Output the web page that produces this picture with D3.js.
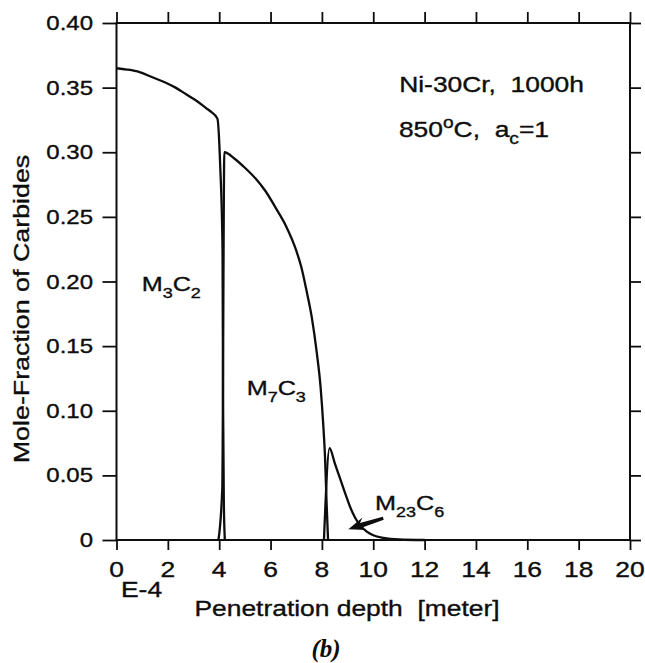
<!DOCTYPE html>
<html>
<head>
<meta charset="utf-8">
<script src="https://cdn.jsdelivr.net/npm/d3@7"></script>
<style>
  html, body { margin: 0; padding: 0; background: #fff; }
  svg { display: block; }
  text { font-family: "Liberation Sans", Arial, Helvetica, sans-serif; fill: #0d0d0d; stroke: #0d0d0d; stroke-width: 0.35px; }
</style>
</head>
<body>
<svg id="chart" width="645" height="663"></svg>
<script>
// Axis ticks
const xTicks = [0, 2, 4, 6, 8, 10, 12, 14, 16, 18, 20];
const yTicks = [0, 0.05, 0.10, 0.15, 0.20, 0.25, 0.30, 0.35, 0.40];
const yTickLabels = ["0", "0.05", "0.10", "0.15", "0.20", "0.25", "0.30", "0.35", "0.40"];

// M3C2 carbide profile (depth in 1E-4 m, mole fraction)
const m3c2Depth = [0, 0.4, 0.9, 1.4, 1.9, 2.3, 2.7, 3.1, 3.5, 3.7, 3.93, 4.04, 4.13, 4.15, 4.18, 4.22];
const m3c2Frac  = [0.365, 0.364, 0.362, 0.358, 0.354, 0.350, 0.345, 0.340, 0.334, 0.331, 0.326, 0.289, 0.224, 0.108, 0.030, 0];

// M7C3 carbide profile
const m7c3Depth = [3.97, 4.12, 4.2, 4.6, 5.0, 5.4, 5.8, 6.2, 6.6, 7.0, 7.2, 7.4, 7.6, 7.8, 7.95, 8.05, 8.12, 8.18, 8.24];
const m7c3Frac  = [0, 0.04, 0.300, 0.295, 0.288, 0.280, 0.270, 0.257, 0.243, 0.224, 0.211, 0.193, 0.173, 0.145, 0.118, 0.090, 0.065, 0.030, 0];

// M23C6 carbide profile
const m23c6Depth = [8.08, 8.3, 8.5, 8.7, 8.9, 9.1, 9.3, 9.5, 9.75, 10.0, 10.4, 11.0, 12.0];
const m23c6Frac  = [0, 0.071, 0.0595, 0.048, 0.0365, 0.0255, 0.017, 0.011, 0.0065, 0.0037, 0.0016, 0.0004, 0];

const STRETCH = 1.2;   // wide lettering of the figure
const ink = "#0d0d0d";

const svg = d3.select("#chart");
const x = d3.scaleLinear().domain([0, 20]).range([116.5, 630]);
const y = d3.scaleLinear().domain([0, 0.40]).range([540, 23]);

// tick marks on all four sides
const tickStyle = g => {
  g.select(".domain").remove();
  g.selectAll("line").attr("stroke", ink).attr("stroke-width", 1.8);
};
svg.append("g").attr("transform", `translate(0,${y(0)})`)
  .call(d3.axisBottom(x).tickValues(xTicks).tickSize(10).tickFormat(""))
  .call(tickStyle);
svg.append("g").attr("transform", `translate(0,${y(0.40)})`)
  .call(d3.axisTop(x).tickValues(xTicks).tickSize(11).tickFormat(""))
  .call(tickStyle);
svg.append("g").attr("transform", `translate(${x(0)},0)`)
  .call(d3.axisLeft(y).tickValues(yTicks).tickSize(14).tickFormat(""))
  .call(tickStyle);
svg.append("g").attr("transform", `translate(${x(20)},0)`)
  .call(d3.axisRight(y).tickValues(yTicks).tickSize(11).tickFormat(""))
  .call(tickStyle);

// plot frame
svg.append("rect")
  .attr("x", x(0)).attr("y", y(0.40))
  .attr("width", x(20) - x(0)).attr("height", y(0) - y(0.40))
  .attr("fill", "none").attr("stroke", ink).attr("stroke-width", 2);

// tick labels
svg.append("g").selectAll("text").data(xTicks).join("text")
  .attr("transform", d => `translate(${x(d)},577) scale(${STRETCH},1)`)
  .attr("text-anchor", "middle").attr("font-size", 22)
  .text(d => d);
svg.append("g").selectAll("text").data(yTicks).join("text")
  .attr("transform", d => `translate(93,${y(d) + 7}) scale(${STRETCH},1)`)
  .attr("text-anchor", "end").attr("font-size", 20)
  .text((d, i) => yTickLabels[i]);

// exponent marker and axis titles
svg.append("text")
  .attr("transform", `translate(121,597) scale(${STRETCH},1)`)
  .attr("font-size", 22).text("E-4");
svg.append("text")
  .attr("transform", `translate(347,616) scale(${STRETCH},1)`)
  .attr("text-anchor", "middle").attr("font-size", 22)
  .style("white-space", "pre")
  .text("Penetration depth  [meter]");
svg.append("text")
  .attr("transform", `translate(29,309) rotate(-90) scale(1.22,1)`)
  .attr("text-anchor", "middle").attr("font-size", 22)
  .text("Mole-Fraction of Carbides");
svg.append("text")
  .attr("x", 326).attr("y", 657)
  .attr("text-anchor", "middle")
  .style("font-family", '"Liberation Serif", "Times New Roman", serif')
  .style("font-style", "italic")
  .style("font-weight", "bold")
  .style("stroke-width", "0px")
  .attr("font-size", 25)
  .text("(b)");

// carbide curves
const line = d3.line().x(d => x(d[0])).y(d => y(d[1])).curve(d3.curveMonotoneX);
const series = [
  d3.zip(m3c2Depth, m3c2Frac),
  d3.zip(m7c3Depth, m7c3Frac),
  d3.zip(m23c6Depth, m23c6Frac)
];
svg.append("g").selectAll("path").data(series).join("path")
  .attr("d", line)
  .attr("fill", "none").attr("stroke", ink).attr("stroke-width", 2.3)
  .attr("stroke-linejoin", "round");

// phase labels with subscripts
function formula(px, py, parts, size, subSize) {
  const t = svg.append("text")
    .attr("transform", `translate(${px},${py}) scale(${STRETCH},1)`)
    .attr("font-size", size)
    .style("white-space", "pre");
  let shift = 0;
  parts.forEach(([str, kind]) => {
    const sp = t.append("tspan").text(str);
    let target = 0;
    if (kind === "sub") { target = 7; sp.attr("font-size", subSize); }
    if (kind === "sup") { target = -9; sp.attr("font-size", subSize); }
    sp.attr("dy", target - shift);
    shift = target;
  });
  return t;
}
formula(x(0.98), y(0.193), [["M"], ["3", "sub"], ["C"], ["2", "sub"]], 21, 15);
formula(x(5.07), y(0.112), [["M"], ["7", "sub"], ["C"], ["3", "sub"]], 21, 15);
formula(x(10.07), y(0.0232), [["M"], ["23", "sub"], ["C"], ["6", "sub"]], 21, 15);

// run conditions
formula(x(11.01), y(0.3468), [["Ni-30Cr,  1000h"]], 22, 16);
formula(x(11.0), y(0.312), [["850"], ["o", "sup"], ["C,  a"], ["c", "sub"], ["=1"]], 22, 16);

// arrow pointing at the M23C6 tail
(function arrow(from, to) {
  const T = [x(from[0]), y(from[1])], P = [x(to[0]), y(to[1])];
  const dx = P[0] - T[0], dy = P[1] - T[1], len = Math.hypot(dx, dy);
  const u = [dx / len, dy / len], n = [-u[1], u[0]];
  const at = (base, along, side) => [base[0] + u[0] * along + n[0] * side, base[1] + u[1] * along + n[1] * side];
  const pts = [P, at(P, -17, 7), at(P, -13, 2.6), at(T, 0, 1.6), at(T, 0, -1.6), at(P, -13, -2.6), at(P, -17, -6)];
  svg.append("path").attr("d", "M" + pts.map(p => p.join(",")).join("L") + "Z").attr("fill", ink);
})([10.39, 0.0168], [9.03, 0.0083]);
</script>
</body>
</html>
